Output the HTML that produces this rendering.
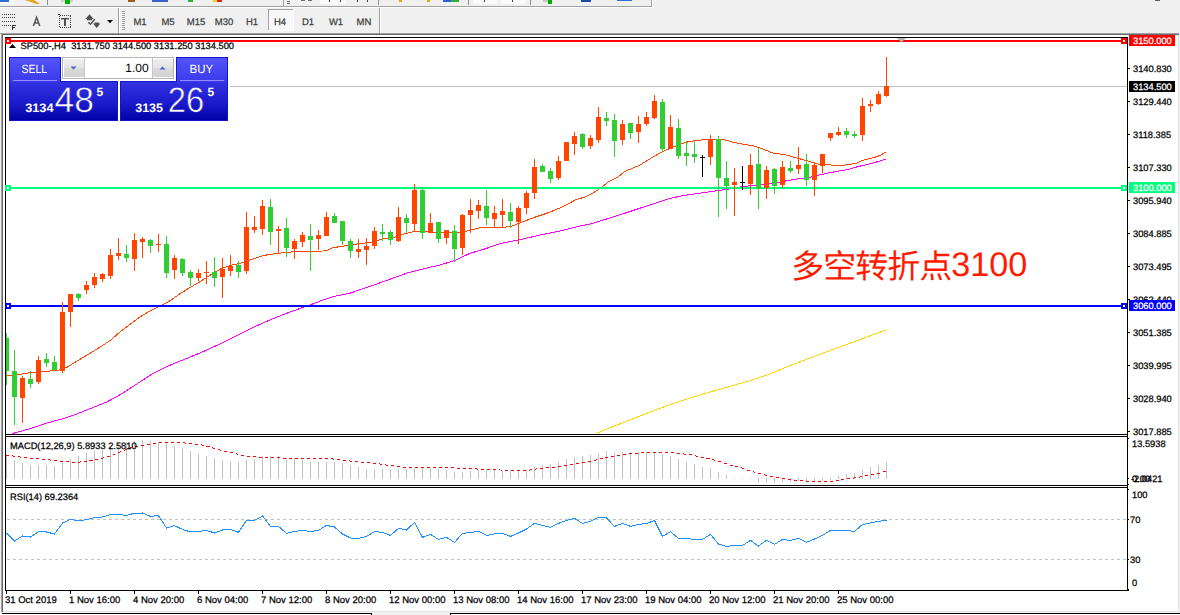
<!DOCTYPE html>
<html><head><meta charset="utf-8"><title>SP500-,H4</title>
<style>
html,body{margin:0;padding:0;background:#f0f0f0;}
body{width:1180px;height:615px;overflow:hidden;font-family:"Liberation Sans",sans-serif;}
svg{display:block;font-family:"Liberation Sans",sans-serif;}
</style></head><body>
<svg width="1180" height="615" viewBox="0 0 1180 615" shape-rendering="crispEdges" text-rendering="geometricPrecision">
<rect x="0" y="0" width="1180" height="615" fill="#f0f0f0"/>
<g id="tb1">
<rect x="0" y="6" width="652" height="1" fill="#a0a0a0"/>
<rect x="0" y="7" width="652" height="1" fill="#ffffff"/>
<rect x="651" y="0" width="1" height="7" fill="#a0a0a0"/>
<rect x="652" y="0" width="1" height="8" fill="#ffffff"/>
<rect x="0" y="0" width="14" height="4" fill="#fafafa"/>
<rect x="0" y="0" width="9" height="2" fill="#2f6fd0"/>
<path d="M25 0 L34 0 L40 4 L36.5 4 Z" fill="#e0a818" shape-rendering="auto"/>
<rect x="47" y="0" width="1" height="5" fill="#8c8c8c"/>
<rect x="61" y="0" width="12" height="2" fill="#d0d0d0"/>
<rect x="65" y="0" width="5" height="4" fill="#00b000"/>
<rect x="128" y="0" width="7" height="2" fill="#a0601c"/>
<rect x="152" y="0" width="16" height="2" fill="#3c64c8"/>
<rect x="184" y="0" width="4" height="2" fill="#e8f0f8"/>
<rect x="188" y="0" width="5" height="2" fill="#30b030"/>
<rect x="213" y="0" width="4" height="2" fill="#f0d020"/>
<rect x="217" y="0" width="5" height="2" fill="#e02010"/>
<rect x="283" y="0" width="1" height="6" fill="#a0a0a0"/>
<rect x="287" y="1" width="3" height="1" fill="#707070"/>
<rect x="287" y="3" width="3" height="1" fill="#707070"/>
<rect x="301" y="0" width="4" height="1" fill="#707070"/>
<rect x="308" y="0" width="4" height="1" fill="#707070"/>
<rect x="320" y="0" width="26" height="4" fill="#fafafa"/>
<rect x="329" y="0" width="1" height="2" fill="#404040"/>
<rect x="340" y="0" width="1" height="2" fill="#404040"/>
<rect x="357" y="0" width="1" height="2" fill="#404040"/>
<rect x="367" y="0" width="1" height="2" fill="#404040"/>
<rect x="378" y="0" width="1" height="5" fill="#8c8c8c"/>
<rect x="399" y="0" width="3" height="2" fill="#e0b000"/>
<rect x="427" y="0" width="3" height="2" fill="#e0b000"/>
<rect x="443" y="0" width="8" height="2" fill="#3060e0"/>
<rect x="451" y="0" width="8" height="2" fill="#30b030"/>
<rect x="468" y="0" width="1" height="5" fill="#8c8c8c"/>
<rect x="473" y="0" width="24" height="4" fill="#fafafa"/>
<rect x="501" y="0" width="25" height="4" fill="#fafafa"/>
<rect x="484" y="0" width="1" height="2" fill="#404040"/>
<rect x="512" y="0" width="1" height="2" fill="#404040"/>
<rect x="530" y="0" width="1" height="5" fill="#8c8c8c"/>
<rect x="543" y="0" width="5" height="2" fill="#c8c8c8"/>
<rect x="548" y="0" width="4" height="4" fill="#00b000"/>
<rect x="581" y="0" width="10" height="2" fill="#1c48a8"/>
<rect x="617" y="0" width="15" height="1" fill="#3070d0"/>
<rect x="1155" y="0" width="5" height="1" fill="#606060"/>
</g>
<g id="tb2">
<rect x="2" y="14" width="1" height="1" fill="#404040"/>
<rect x="4" y="14" width="1" height="1" fill="#404040"/>
<rect x="6" y="14" width="1" height="1" fill="#404040"/>
<rect x="8" y="14" width="1" height="1" fill="#404040"/>
<rect x="10" y="14" width="1" height="1" fill="#404040"/>
<rect x="12" y="14" width="1" height="1" fill="#404040"/>
<rect x="14" y="14" width="1" height="1" fill="#404040"/>
<rect x="2" y="17" width="1" height="1" fill="#404040"/>
<rect x="4" y="17" width="1" height="1" fill="#404040"/>
<rect x="6" y="17" width="1" height="1" fill="#404040"/>
<rect x="8" y="17" width="1" height="1" fill="#404040"/>
<rect x="10" y="17" width="1" height="1" fill="#404040"/>
<rect x="12" y="17" width="1" height="1" fill="#404040"/>
<rect x="14" y="17" width="1" height="1" fill="#404040"/>
<rect x="2" y="21" width="1" height="1" fill="#404040"/>
<rect x="4" y="21" width="1" height="1" fill="#404040"/>
<rect x="6" y="21" width="1" height="1" fill="#404040"/>
<rect x="8" y="21" width="1" height="1" fill="#404040"/>
<rect x="10" y="21" width="1" height="1" fill="#404040"/>
<rect x="12" y="21" width="1" height="1" fill="#404040"/>
<rect x="14" y="21" width="1" height="1" fill="#404040"/>
<rect x="2" y="25" width="1" height="1" fill="#404040"/>
<rect x="4" y="25" width="1" height="1" fill="#404040"/>
<rect x="6" y="25" width="1" height="1" fill="#404040"/>
<rect x="8" y="25" width="1" height="1" fill="#404040"/>
<rect x="10" y="25" width="1" height="1" fill="#404040"/>
<path d="M12 25h4v1h-3v1h2v1h-2v2h-1z" fill="#303030"/>
<path d="M33.4 26 L36.6 17.4 L39.8 26 M34.6 23.1 L38.6 23.1" fill="none" stroke="#555" stroke-width="1.5" stroke-linejoin="miter" shape-rendering="geometricPrecision"/>
<rect x="60" y="15" width="1" height="1" fill="#404040"/>
<rect x="60" y="27" width="1" height="1" fill="#404040"/>
<rect x="62" y="15" width="1" height="1" fill="#404040"/>
<rect x="62" y="27" width="1" height="1" fill="#404040"/>
<rect x="64" y="15" width="1" height="1" fill="#404040"/>
<rect x="64" y="27" width="1" height="1" fill="#404040"/>
<rect x="66" y="15" width="1" height="1" fill="#404040"/>
<rect x="66" y="27" width="1" height="1" fill="#404040"/>
<rect x="68" y="15" width="1" height="1" fill="#404040"/>
<rect x="68" y="27" width="1" height="1" fill="#404040"/>
<rect x="70" y="15" width="1" height="1" fill="#404040"/>
<rect x="70" y="27" width="1" height="1" fill="#404040"/>
<rect x="59" y="16" width="1" height="1" fill="#404040"/>
<rect x="70" y="16" width="1" height="1" fill="#404040"/>
<rect x="59" y="18" width="1" height="1" fill="#404040"/>
<rect x="70" y="18" width="1" height="1" fill="#404040"/>
<rect x="59" y="20" width="1" height="1" fill="#404040"/>
<rect x="70" y="20" width="1" height="1" fill="#404040"/>
<rect x="59" y="22" width="1" height="1" fill="#404040"/>
<rect x="70" y="22" width="1" height="1" fill="#404040"/>
<rect x="59" y="24" width="1" height="1" fill="#404040"/>
<rect x="70" y="24" width="1" height="1" fill="#404040"/>
<rect x="59" y="26" width="1" height="1" fill="#404040"/>
<rect x="70" y="26" width="1" height="1" fill="#404040"/>
<rect x="58" y="14" width="2" height="1" fill="#404040"/>
<rect x="61" y="18" width="8" height="1" fill="#505050"/>
<rect x="61" y="19" width="8" height="1" fill="#b0b0b0"/>
<rect x="64" y="18" width="2" height="8" fill="#505050"/>
<path d="M89.5 14.3 L93.6 19 L92 19 L92 20.2 L87 20.2 L87 19 L85.4 19 Z M93 23.6 L94.6 23.6 L94.6 22.6 L98.8 22.6 L98.8 23.6 L100.4 23.6 L96.7 28 Z" fill="#505050" shape-rendering="auto"/>
<path d="M88.3 22.2 L90.4 24.3 L94.8 19.2" fill="none" stroke="#505050" stroke-width="1.4" shape-rendering="auto"/>
<path d="M107 20 L113 20 L110 23.2 Z" fill="#000" shape-rendering="auto"/>
<rect x="118" y="8" width="1" height="25" fill="#a0a0a0"/>
<rect x="119" y="8" width="1" height="25" fill="#ffffff"/>
<rect x="122" y="11" width="3" height="1" fill="#a0a0a0"/>
<rect x="122" y="13" width="3" height="1" fill="#a0a0a0"/>
<rect x="122" y="15" width="3" height="1" fill="#a0a0a0"/>
<rect x="122" y="17" width="3" height="1" fill="#a0a0a0"/>
<rect x="122" y="19" width="3" height="1" fill="#a0a0a0"/>
<rect x="122" y="21" width="3" height="1" fill="#a0a0a0"/>
<rect x="122" y="23" width="3" height="1" fill="#a0a0a0"/>
<rect x="122" y="25" width="3" height="1" fill="#a0a0a0"/>
<rect x="122" y="27" width="3" height="1" fill="#a0a0a0"/>
<rect x="122" y="29" width="3" height="1" fill="#a0a0a0"/>
<rect x="268" y="9" width="26" height="22" fill="#f8f8f8"/>
<rect x="268" y="9" width="26" height="1" fill="#a0a0a0"/>
<rect x="268" y="9" width="1" height="22" fill="#a0a0a0"/>
<rect x="268" y="30" width="26" height="1" fill="#ffffff"/>
<rect x="293" y="9" width="1" height="22" fill="#ffffff"/>
<text x="140" y="25" font-size="9.5" fill="#404040" text-anchor="middle" stroke="#404040" stroke-width="0.25">M1</text>
<text x="168" y="25" font-size="9.5" fill="#404040" text-anchor="middle" stroke="#404040" stroke-width="0.25">M5</text>
<text x="196" y="25" font-size="9.5" fill="#404040" text-anchor="middle" stroke="#404040" stroke-width="0.25">M15</text>
<text x="224" y="25" font-size="9.5" fill="#404040" text-anchor="middle" stroke="#404040" stroke-width="0.25">M30</text>
<text x="252" y="25" font-size="9.5" fill="#404040" text-anchor="middle" stroke="#404040" stroke-width="0.25">H1</text>
<text x="280" y="25" font-size="9.5" fill="#404040" text-anchor="middle" stroke="#404040" stroke-width="0.25">H4</text>
<text x="308" y="25" font-size="9.5" fill="#404040" text-anchor="middle" stroke="#404040" stroke-width="0.25">D1</text>
<text x="336" y="25" font-size="9.5" fill="#404040" text-anchor="middle" stroke="#404040" stroke-width="0.25">W1</text>
<text x="364" y="25" font-size="9.5" fill="#404040" text-anchor="middle" stroke="#404040" stroke-width="0.25">MN</text>
<rect x="379" y="8" width="1" height="25" fill="#a0a0a0"/>
<rect x="380" y="8" width="1" height="25" fill="#ffffff"/>
</g>
<rect x="0" y="33" width="1179" height="1" fill="#a0a0a0"/>
<rect x="1" y="34" width="1178" height="1" fill="#696969"/>
<rect x="1" y="33" width="1" height="579" fill="#a0a0a0"/>
<rect x="2" y="34" width="1" height="578" fill="#696969"/>
<rect x="3" y="35" width="1175" height="576" fill="#ffffff"/>
<rect x="1178" y="35" width="1" height="577" fill="#e3e3e3"/>
<rect x="3" y="611" width="1176" height="1" fill="#e3e3e3"/>
<rect x="2" y="613" width="370" height="1" fill="#000"/>
<rect x="450" y="613" width="730" height="1" fill="#000"/>
<rect x="371" y="613" width="1" height="2" fill="#000"/>
<rect x="450" y="613" width="1" height="2" fill="#000"/>
<rect x="0" y="614" width="371" height="1" fill="#ffffff"/>
<rect x="451" y="614" width="729" height="1" fill="#ffffff"/>
<rect x="5" y="37" width="1123" height="1" fill="#000"/>
<rect x="5" y="37" width="1" height="554" fill="#000"/>
<rect x="1127" y="37" width="1" height="554" fill="#000"/>
<rect x="5" y="434" width="1123" height="1" fill="#000"/>
<rect x="5" y="436" width="1123" height="1" fill="#000"/>
<rect x="5" y="485" width="1123" height="1" fill="#000"/>
<rect x="5" y="487" width="1123" height="1" fill="#000"/>
<rect x="5" y="590" width="1124" height="1" fill="#000"/>
<rect x="6" y="435" width="1121" height="1" fill="#fff"/>
<rect x="6" y="486" width="1121" height="1" fill="#fff"/>
<rect x="230" y="86" width="897" height="1" fill="#c0c0c0"/>
<g id="series">
<polyline points="596.0,433.6 610.0,427.6 630.0,420.0 650.0,412.0 670.0,404.6 690.0,398.0 710.0,392.0 730.0,386.4 750.0,380.6 770.0,374.0 790.0,365.6 810.0,358.0 826.0,352.0 886.0,330.0" fill="none" stroke="#ffd700" stroke-width="1"/>
<polyline points="12.5,433.8 13.8,433.2 30.6,428.6 45.8,423.3 61.1,419.2 76.4,414.1 91.7,408.0 107.0,401.9 122.2,393.5 137.5,383.5 152.8,373.6 168.1,366.0 180.0,361.1 200.0,353.0 220.0,344.0 241.1,333.5 255.6,326.3 269.3,320.2 284.6,314.1 299.9,308.5 312.1,304.2 322.8,300.0 335.0,296.2 350.0,293.2 378.2,283.5 393.5,277.9 408.8,272.5 424.0,268.7 439.3,265.2 454.6,260.6 469.9,253.4 485.2,248.8 500.5,243.5 520.0,239.7 540.0,235.0 560.0,231.0 580.0,226.0 592.5,223.5 607.8,218.6 624.6,213.3 639.9,208.2 655.2,203.3 670.5,198.3 681.1,196.0 690.0,194.5 698.7,193.3 717.4,190.7 730.5,188.8 743.6,186.4 754.8,185.4 773.5,183.2 792.1,179.8 810.8,177.0 829.5,172.7 848.2,169.5 857.6,166.7 866.9,164.5 876.3,162.1 885.6,159.3" fill="none" stroke="#ff00ff" stroke-width="1"/>
<polyline points="6.0,375.6 20.0,374.4 30.6,372.5 45.8,371.3 56.5,370.6 62.7,369.0 67.2,367.2 76.4,361.4 85.6,356.0 94.7,350.4 103.9,344.6 110.8,340.0 120.0,332.0 140.0,317.0 148.0,312.0 160.0,306.0 170.0,300.8 179.2,294.2 188.3,288.6 200.6,281.3 209.7,275.5 220.4,269.0 231.1,265.2 241.8,262.9 252.5,259.1 264.7,255.3 277.0,253.4 292.2,251.9 307.5,251.2 322.8,251.0 327.4,250.4 332.0,247.9 341.2,246.4 355.3,244.2 370.6,242.3 379.7,239.7 385.8,238.4 393.5,237.7 401.1,234.8 408.8,232.8 414.9,231.3 425.6,231.6 431.7,232.3 447.0,232.3 459.2,232.3 466.8,231.0 472.9,229.4 482.1,227.4 492.8,227.1 505.0,227.1 512.7,225.9 519.9,222.9 532.9,217.9 548.2,212.8 563.5,206.4 575.7,199.8 586.4,196.5 595.6,191.4 601.7,187.3 609.3,181.2 617.0,177.7 624.6,171.6 639.9,165.1 652.1,157.5 662.8,151.4 672.0,147.6 681.1,143.8 689.3,141.5 698.7,140.2 709.9,139.3 723.0,139.3 732.3,142.1 743.6,144.3 754.8,146.2 764.1,149.5 773.5,153.3 784.7,154.6 795.9,157.8 807.1,160.7 816.4,163.9 829.5,164.9 838.9,165.8 848.2,164.5 855.7,163.4 863.2,160.2 874.4,157.4 880.0,155.5 885.6,152.1" fill="none" stroke="#ff4500" stroke-width="1"/>
</g>
<rect x="6" y="40" width="1121" height="2" fill="#ff0000"/>
<rect x="6" y="187" width="1121" height="2" fill="#00ff7f"/>
<rect x="6" y="305" width="1121" height="2" fill="#0000ff"/>
<g id="candles">
<rect x="6" y="333" width="1" height="52" fill="#32cd32"/>
<rect x="6" y="338" width="3" height="33" fill="#32cd32"/>
<rect x="14" y="350" width="1" height="75" fill="#32cd32"/>
<rect x="12" y="371" width="5" height="26" fill="#32cd32"/>
<rect x="22" y="376" width="1" height="47" fill="#ff4500"/>
<rect x="20" y="378" width="5" height="20" fill="#ff4500"/>
<rect x="30" y="371" width="1" height="17" fill="#32cd32"/>
<rect x="28" y="379" width="5" height="5" fill="#32cd32"/>
<rect x="38" y="356" width="1" height="28" fill="#ff4500"/>
<rect x="36" y="360" width="5" height="22" fill="#ff4500"/>
<rect x="46" y="353" width="1" height="14" fill="#32cd32"/>
<rect x="44" y="359" width="5" height="4" fill="#32cd32"/>
<rect x="54" y="356" width="1" height="15" fill="#32cd32"/>
<rect x="52" y="362" width="5" height="8" fill="#32cd32"/>
<rect x="62" y="302" width="1" height="71" fill="#ff4500"/>
<rect x="60" y="312" width="5" height="59" fill="#ff4500"/>
<rect x="70" y="294" width="1" height="33" fill="#ff4500"/>
<rect x="68" y="294" width="5" height="18" fill="#ff4500"/>
<rect x="78" y="293" width="1" height="8" fill="#32cd32"/>
<rect x="76" y="294" width="5" height="4" fill="#32cd32"/>
<rect x="86" y="281" width="1" height="13" fill="#ff4500"/>
<rect x="84" y="285" width="5" height="5" fill="#ff4500"/>
<rect x="94" y="273" width="1" height="15" fill="#ff4500"/>
<rect x="92" y="277" width="5" height="8" fill="#ff4500"/>
<rect x="102" y="273" width="1" height="9" fill="#ff4500"/>
<rect x="100" y="274" width="5" height="5" fill="#ff4500"/>
<rect x="110" y="249" width="1" height="30" fill="#ff4500"/>
<rect x="108" y="255" width="5" height="21" fill="#ff4500"/>
<rect x="118" y="238" width="1" height="22" fill="#ff4500"/>
<rect x="116" y="253" width="5" height="3" fill="#ff4500"/>
<rect x="126" y="245" width="1" height="17" fill="#32cd32"/>
<rect x="124" y="254" width="5" height="4" fill="#32cd32"/>
<rect x="134" y="233" width="1" height="38" fill="#ff4500"/>
<rect x="132" y="240" width="5" height="19" fill="#ff4500"/>
<rect x="142" y="237" width="1" height="21" fill="#ff4500"/>
<rect x="140" y="239" width="5" height="3" fill="#ff4500"/>
<rect x="150" y="239" width="1" height="14" fill="#32cd32"/>
<rect x="148" y="240" width="5" height="6" fill="#32cd32"/>
<rect x="158" y="234" width="1" height="18" fill="#ff4500"/>
<rect x="156" y="244" width="5" height="1" fill="#ff4500"/>
<rect x="166" y="236" width="1" height="42" fill="#32cd32"/>
<rect x="164" y="244" width="5" height="29" fill="#32cd32"/>
<rect x="174" y="255" width="1" height="24" fill="#ff4500"/>
<rect x="172" y="258" width="5" height="12" fill="#ff4500"/>
<rect x="182" y="258" width="1" height="18" fill="#32cd32"/>
<rect x="180" y="259" width="5" height="14" fill="#32cd32"/>
<rect x="190" y="270" width="1" height="16" fill="#32cd32"/>
<rect x="188" y="272" width="5" height="6" fill="#32cd32"/>
<rect x="198" y="269" width="1" height="12" fill="#ff4500"/>
<rect x="196" y="273" width="5" height="5" fill="#ff4500"/>
<rect x="206" y="261" width="1" height="23" fill="#ff4500"/>
<rect x="204" y="272" width="5" height="1" fill="#ff4500"/>
<rect x="214" y="257" width="1" height="30" fill="#32cd32"/>
<rect x="212" y="272" width="5" height="6" fill="#32cd32"/>
<rect x="222" y="258" width="1" height="40" fill="#ff4500"/>
<rect x="220" y="269" width="5" height="8" fill="#ff4500"/>
<rect x="230" y="255" width="1" height="21" fill="#ff4500"/>
<rect x="228" y="266" width="5" height="5" fill="#ff4500"/>
<rect x="238" y="261" width="1" height="17" fill="#32cd32"/>
<rect x="236" y="265" width="5" height="7" fill="#32cd32"/>
<rect x="246" y="212" width="1" height="62" fill="#ff4500"/>
<rect x="244" y="227" width="5" height="44" fill="#ff4500"/>
<rect x="254" y="216" width="1" height="17" fill="#ff4500"/>
<rect x="252" y="227" width="5" height="3" fill="#ff4500"/>
<rect x="262" y="200" width="1" height="35" fill="#ff4500"/>
<rect x="260" y="206" width="5" height="23" fill="#ff4500"/>
<rect x="270" y="199" width="1" height="46" fill="#32cd32"/>
<rect x="268" y="207" width="5" height="25" fill="#32cd32"/>
<rect x="278" y="226" width="1" height="27" fill="#ff4500"/>
<rect x="276" y="229" width="5" height="2" fill="#ff4500"/>
<rect x="286" y="218" width="1" height="39" fill="#32cd32"/>
<rect x="284" y="228" width="5" height="20" fill="#32cd32"/>
<rect x="294" y="239" width="1" height="20" fill="#ff4500"/>
<rect x="292" y="241" width="5" height="8" fill="#ff4500"/>
<rect x="302" y="232" width="1" height="15" fill="#ff4500"/>
<rect x="300" y="235" width="5" height="7" fill="#ff4500"/>
<rect x="310" y="224" width="1" height="47" fill="#32cd32"/>
<rect x="308" y="236" width="5" height="4" fill="#32cd32"/>
<rect x="318" y="230" width="1" height="20" fill="#ff4500"/>
<rect x="316" y="235" width="5" height="4" fill="#ff4500"/>
<rect x="326" y="212" width="1" height="24" fill="#ff4500"/>
<rect x="324" y="217" width="5" height="19" fill="#ff4500"/>
<rect x="334" y="213" width="1" height="10" fill="#32cd32"/>
<rect x="332" y="216" width="5" height="7" fill="#32cd32"/>
<rect x="342" y="221" width="1" height="24" fill="#32cd32"/>
<rect x="340" y="221" width="5" height="20" fill="#32cd32"/>
<rect x="350" y="239" width="1" height="19" fill="#32cd32"/>
<rect x="348" y="241" width="5" height="10" fill="#32cd32"/>
<rect x="358" y="239" width="1" height="19" fill="#ff4500"/>
<rect x="356" y="249" width="5" height="3" fill="#ff4500"/>
<rect x="366" y="238" width="1" height="27" fill="#ff4500"/>
<rect x="364" y="246" width="5" height="4" fill="#ff4500"/>
<rect x="374" y="227" width="1" height="22" fill="#ff4500"/>
<rect x="372" y="231" width="5" height="15" fill="#ff4500"/>
<rect x="382" y="224" width="1" height="17" fill="#32cd32"/>
<rect x="380" y="232" width="5" height="2" fill="#32cd32"/>
<rect x="390" y="230" width="1" height="15" fill="#32cd32"/>
<rect x="388" y="232" width="5" height="8" fill="#32cd32"/>
<rect x="398" y="207" width="1" height="35" fill="#ff4500"/>
<rect x="396" y="217" width="5" height="24" fill="#ff4500"/>
<rect x="406" y="214" width="1" height="19" fill="#32cd32"/>
<rect x="404" y="218" width="5" height="5" fill="#32cd32"/>
<rect x="414" y="184" width="1" height="47" fill="#ff4500"/>
<rect x="412" y="190" width="5" height="34" fill="#ff4500"/>
<rect x="422" y="187" width="1" height="52" fill="#32cd32"/>
<rect x="420" y="190" width="5" height="43" fill="#32cd32"/>
<rect x="430" y="213" width="1" height="20" fill="#ff4500"/>
<rect x="428" y="223" width="5" height="10" fill="#ff4500"/>
<rect x="438" y="222" width="1" height="21" fill="#32cd32"/>
<rect x="436" y="222" width="5" height="17" fill="#32cd32"/>
<rect x="446" y="230" width="1" height="14" fill="#ff4500"/>
<rect x="444" y="230" width="5" height="8" fill="#ff4500"/>
<rect x="454" y="225" width="1" height="37" fill="#32cd32"/>
<rect x="452" y="231" width="5" height="18" fill="#32cd32"/>
<rect x="462" y="214" width="1" height="41" fill="#ff4500"/>
<rect x="460" y="215" width="5" height="33" fill="#ff4500"/>
<rect x="470" y="199" width="1" height="34" fill="#ff4500"/>
<rect x="468" y="210" width="5" height="5" fill="#ff4500"/>
<rect x="478" y="200" width="1" height="19" fill="#ff4500"/>
<rect x="476" y="205" width="5" height="6" fill="#ff4500"/>
<rect x="486" y="190" width="1" height="35" fill="#32cd32"/>
<rect x="484" y="206" width="5" height="12" fill="#32cd32"/>
<rect x="494" y="206" width="1" height="22" fill="#ff4500"/>
<rect x="492" y="213" width="5" height="6" fill="#ff4500"/>
<rect x="502" y="199" width="1" height="29" fill="#ff4500"/>
<rect x="500" y="211" width="5" height="4" fill="#ff4500"/>
<rect x="510" y="203" width="1" height="25" fill="#32cd32"/>
<rect x="508" y="212" width="5" height="9" fill="#32cd32"/>
<rect x="518" y="206" width="1" height="38" fill="#ff4500"/>
<rect x="516" y="208" width="5" height="14" fill="#ff4500"/>
<rect x="526" y="191" width="1" height="23" fill="#ff4500"/>
<rect x="524" y="193" width="5" height="15" fill="#ff4500"/>
<rect x="534" y="159" width="1" height="40" fill="#ff4500"/>
<rect x="532" y="167" width="5" height="26" fill="#ff4500"/>
<rect x="542" y="164" width="1" height="8" fill="#32cd32"/>
<rect x="540" y="166" width="5" height="6" fill="#32cd32"/>
<rect x="550" y="168" width="1" height="15" fill="#32cd32"/>
<rect x="548" y="171" width="5" height="8" fill="#32cd32"/>
<rect x="558" y="156" width="1" height="24" fill="#ff4500"/>
<rect x="556" y="161" width="5" height="17" fill="#ff4500"/>
<rect x="566" y="142" width="1" height="19" fill="#ff4500"/>
<rect x="564" y="142" width="5" height="19" fill="#ff4500"/>
<rect x="574" y="132" width="1" height="23" fill="#ff4500"/>
<rect x="572" y="136" width="5" height="8" fill="#ff4500"/>
<rect x="582" y="133" width="1" height="16" fill="#32cd32"/>
<rect x="580" y="134" width="5" height="13" fill="#32cd32"/>
<rect x="590" y="135" width="1" height="14" fill="#ff4500"/>
<rect x="588" y="138" width="5" height="8" fill="#ff4500"/>
<rect x="598" y="107" width="1" height="36" fill="#ff4500"/>
<rect x="596" y="117" width="5" height="23" fill="#ff4500"/>
<rect x="606" y="112" width="1" height="14" fill="#32cd32"/>
<rect x="604" y="118" width="5" height="3" fill="#32cd32"/>
<rect x="614" y="114" width="1" height="43" fill="#32cd32"/>
<rect x="612" y="120" width="5" height="21" fill="#32cd32"/>
<rect x="622" y="120" width="1" height="25" fill="#ff4500"/>
<rect x="620" y="124" width="5" height="16" fill="#ff4500"/>
<rect x="630" y="123" width="1" height="16" fill="#32cd32"/>
<rect x="628" y="123" width="5" height="10" fill="#32cd32"/>
<rect x="638" y="116" width="1" height="27" fill="#ff4500"/>
<rect x="636" y="124" width="5" height="8" fill="#ff4500"/>
<rect x="646" y="112" width="1" height="14" fill="#ff4500"/>
<rect x="644" y="117" width="5" height="7" fill="#ff4500"/>
<rect x="654" y="95" width="1" height="24" fill="#ff4500"/>
<rect x="652" y="101" width="5" height="17" fill="#ff4500"/>
<rect x="662" y="99" width="1" height="53" fill="#32cd32"/>
<rect x="660" y="102" width="5" height="47" fill="#32cd32"/>
<rect x="670" y="115" width="1" height="34" fill="#ff4500"/>
<rect x="668" y="127" width="5" height="22" fill="#ff4500"/>
<rect x="678" y="119" width="1" height="40" fill="#32cd32"/>
<rect x="676" y="128" width="5" height="28" fill="#32cd32"/>
<rect x="686" y="141" width="1" height="25" fill="#32cd32"/>
<rect x="684" y="153" width="5" height="3" fill="#32cd32"/>
<rect x="694" y="141" width="1" height="22" fill="#32cd32"/>
<rect x="692" y="154" width="5" height="3" fill="#32cd32"/>
<rect x="702" y="155" width="1" height="22" fill="#000"/>
<rect x="700" y="157" width="5" height="1" fill="#000"/>
<rect x="710" y="135" width="1" height="30" fill="#ff4500"/>
<rect x="708" y="139" width="5" height="18" fill="#ff4500"/>
<rect x="718" y="136" width="1" height="81" fill="#32cd32"/>
<rect x="716" y="139" width="5" height="39" fill="#32cd32"/>
<rect x="726" y="161" width="1" height="48" fill="#32cd32"/>
<rect x="724" y="178" width="5" height="8" fill="#32cd32"/>
<rect x="734" y="168" width="1" height="48" fill="#ff4500"/>
<rect x="732" y="182" width="5" height="3" fill="#ff4500"/>
<rect x="742" y="166" width="1" height="24" fill="#000"/>
<rect x="740" y="182" width="5" height="1" fill="#000"/>
<rect x="750" y="154" width="1" height="41" fill="#ff4500"/>
<rect x="748" y="165" width="5" height="19" fill="#ff4500"/>
<rect x="758" y="148" width="1" height="61" fill="#32cd32"/>
<rect x="756" y="164" width="5" height="25" fill="#32cd32"/>
<rect x="766" y="166" width="1" height="33" fill="#ff4500"/>
<rect x="764" y="170" width="5" height="18" fill="#ff4500"/>
<rect x="774" y="168" width="1" height="26" fill="#32cd32"/>
<rect x="772" y="169" width="5" height="17" fill="#32cd32"/>
<rect x="782" y="161" width="1" height="27" fill="#ff4500"/>
<rect x="780" y="167" width="5" height="18" fill="#ff4500"/>
<rect x="790" y="161" width="1" height="12" fill="#32cd32"/>
<rect x="788" y="168" width="5" height="3" fill="#32cd32"/>
<rect x="798" y="147" width="1" height="27" fill="#ff4500"/>
<rect x="796" y="165" width="5" height="4" fill="#ff4500"/>
<rect x="806" y="154" width="1" height="32" fill="#32cd32"/>
<rect x="804" y="164" width="5" height="16" fill="#32cd32"/>
<rect x="814" y="162" width="1" height="34" fill="#ff4500"/>
<rect x="812" y="165" width="5" height="15" fill="#ff4500"/>
<rect x="822" y="154" width="1" height="19" fill="#ff4500"/>
<rect x="820" y="154" width="5" height="12" fill="#ff4500"/>
<rect x="830" y="133" width="1" height="8" fill="#ff4500"/>
<rect x="828" y="133" width="5" height="5" fill="#ff4500"/>
<rect x="838" y="127" width="1" height="9" fill="#ff4500"/>
<rect x="836" y="132" width="5" height="3" fill="#ff4500"/>
<rect x="846" y="128" width="1" height="10" fill="#32cd32"/>
<rect x="844" y="131" width="5" height="4" fill="#32cd32"/>
<rect x="854" y="131" width="1" height="7" fill="#32cd32"/>
<rect x="852" y="134" width="5" height="2" fill="#32cd32"/>
<rect x="862" y="98" width="1" height="43" fill="#ff4500"/>
<rect x="860" y="106" width="5" height="29" fill="#ff4500"/>
<rect x="870" y="100" width="1" height="12" fill="#ff4500"/>
<rect x="868" y="104" width="5" height="2" fill="#ff4500"/>
<rect x="878" y="91" width="1" height="14" fill="#ff4500"/>
<rect x="876" y="94" width="5" height="10" fill="#ff4500"/>
<rect x="886" y="57" width="1" height="40" fill="#ff4500"/>
<rect x="884" y="86" width="5" height="10" fill="#ff4500"/>
</g>
<rect x="5" y="38" width="6" height="6" fill="#ff0000"/>
<rect x="7" y="40" width="2" height="2" fill="#fff"/>
<rect x="1121" y="38" width="6" height="6" fill="#ff0000"/>
<rect x="1123" y="40" width="2" height="2" fill="#fff"/>
<rect x="5" y="185" width="6" height="6" fill="#00ff7f"/>
<rect x="7" y="187" width="2" height="2" fill="#fff"/>
<rect x="1121" y="185" width="6" height="6" fill="#00ff7f"/>
<rect x="1123" y="187" width="2" height="2" fill="#fff"/>
<rect x="5" y="303" width="6" height="6" fill="#0000ff"/>
<rect x="7" y="305" width="2" height="2" fill="#fff"/>
<rect x="1121" y="303" width="6" height="6" fill="#0000ff"/>
<rect x="1123" y="305" width="2" height="2" fill="#fff"/>
<path d="M897 38 L906 38 L901.5 42.5 Z" fill="#b0b0b0" shape-rendering="auto"/>
<g id="macd">
<rect x="6" y="455" width="1" height="24" fill="#c0c0c0"/>
<rect x="14" y="460" width="1" height="19" fill="#c0c0c0"/>
<rect x="22" y="463" width="1" height="16" fill="#c0c0c0"/>
<rect x="30" y="465" width="1" height="14" fill="#c0c0c0"/>
<rect x="38" y="465" width="1" height="14" fill="#c0c0c0"/>
<rect x="46" y="465" width="1" height="14" fill="#c0c0c0"/>
<rect x="54" y="466" width="1" height="13" fill="#c0c0c0"/>
<rect x="62" y="463" width="1" height="16" fill="#c0c0c0"/>
<rect x="70" y="459" width="1" height="20" fill="#c0c0c0"/>
<rect x="78" y="456" width="1" height="23" fill="#c0c0c0"/>
<rect x="86" y="453" width="1" height="26" fill="#c0c0c0"/>
<rect x="94" y="451" width="1" height="28" fill="#c0c0c0"/>
<rect x="102" y="450" width="1" height="29" fill="#c0c0c0"/>
<rect x="110" y="447" width="1" height="32" fill="#c0c0c0"/>
<rect x="118" y="444" width="1" height="35" fill="#c0c0c0"/>
<rect x="126" y="442" width="1" height="37" fill="#c0c0c0"/>
<rect x="134" y="441" width="1" height="38" fill="#c0c0c0"/>
<rect x="142" y="440" width="1" height="39" fill="#c0c0c0"/>
<rect x="150" y="441" width="1" height="38" fill="#c0c0c0"/>
<rect x="158" y="442" width="1" height="37" fill="#c0c0c0"/>
<rect x="166" y="443" width="1" height="36" fill="#c0c0c0"/>
<rect x="174" y="446" width="1" height="33" fill="#c0c0c0"/>
<rect x="182" y="448" width="1" height="31" fill="#c0c0c0"/>
<rect x="190" y="451" width="1" height="28" fill="#c0c0c0"/>
<rect x="198" y="454" width="1" height="25" fill="#c0c0c0"/>
<rect x="206" y="456" width="1" height="23" fill="#c0c0c0"/>
<rect x="214" y="458" width="1" height="21" fill="#c0c0c0"/>
<rect x="222" y="460" width="1" height="19" fill="#c0c0c0"/>
<rect x="230" y="461" width="1" height="18" fill="#c0c0c0"/>
<rect x="238" y="462" width="1" height="17" fill="#c0c0c0"/>
<rect x="246" y="460" width="1" height="19" fill="#c0c0c0"/>
<rect x="254" y="459" width="1" height="20" fill="#c0c0c0"/>
<rect x="262" y="456" width="1" height="23" fill="#c0c0c0"/>
<rect x="270" y="456" width="1" height="23" fill="#c0c0c0"/>
<rect x="278" y="456" width="1" height="23" fill="#c0c0c0"/>
<rect x="286" y="458" width="1" height="21" fill="#c0c0c0"/>
<rect x="294" y="458" width="1" height="21" fill="#c0c0c0"/>
<rect x="302" y="460" width="1" height="19" fill="#c0c0c0"/>
<rect x="310" y="462" width="1" height="17" fill="#c0c0c0"/>
<rect x="318" y="462" width="1" height="17" fill="#c0c0c0"/>
<rect x="326" y="462" width="1" height="17" fill="#c0c0c0"/>
<rect x="334" y="462" width="1" height="17" fill="#c0c0c0"/>
<rect x="342" y="463" width="1" height="16" fill="#c0c0c0"/>
<rect x="350" y="465" width="1" height="14" fill="#c0c0c0"/>
<rect x="358" y="467" width="1" height="12" fill="#c0c0c0"/>
<rect x="366" y="469" width="1" height="10" fill="#c0c0c0"/>
<rect x="374" y="469" width="1" height="10" fill="#c0c0c0"/>
<rect x="382" y="469" width="1" height="10" fill="#c0c0c0"/>
<rect x="390" y="470" width="1" height="9" fill="#c0c0c0"/>
<rect x="398" y="469" width="1" height="10" fill="#c0c0c0"/>
<rect x="406" y="469" width="1" height="10" fill="#c0c0c0"/>
<rect x="414" y="468" width="1" height="11" fill="#c0c0c0"/>
<rect x="422" y="468" width="1" height="11" fill="#c0c0c0"/>
<rect x="430" y="468" width="1" height="11" fill="#c0c0c0"/>
<rect x="438" y="469" width="1" height="10" fill="#c0c0c0"/>
<rect x="446" y="470" width="1" height="9" fill="#c0c0c0"/>
<rect x="454" y="472" width="1" height="7" fill="#c0c0c0"/>
<rect x="462" y="472" width="1" height="7" fill="#c0c0c0"/>
<rect x="470" y="471" width="1" height="8" fill="#c0c0c0"/>
<rect x="478" y="470" width="1" height="9" fill="#c0c0c0"/>
<rect x="486" y="470" width="1" height="9" fill="#c0c0c0"/>
<rect x="494" y="470" width="1" height="9" fill="#c0c0c0"/>
<rect x="502" y="471" width="1" height="8" fill="#c0c0c0"/>
<rect x="510" y="471" width="1" height="8" fill="#c0c0c0"/>
<rect x="518" y="471" width="1" height="8" fill="#c0c0c0"/>
<rect x="526" y="470" width="1" height="9" fill="#c0c0c0"/>
<rect x="534" y="467" width="1" height="12" fill="#c0c0c0"/>
<rect x="542" y="465" width="1" height="14" fill="#c0c0c0"/>
<rect x="550" y="464" width="1" height="15" fill="#c0c0c0"/>
<rect x="558" y="462" width="1" height="17" fill="#c0c0c0"/>
<rect x="566" y="459" width="1" height="20" fill="#c0c0c0"/>
<rect x="574" y="457" width="1" height="22" fill="#c0c0c0"/>
<rect x="582" y="456" width="1" height="23" fill="#c0c0c0"/>
<rect x="590" y="455" width="1" height="24" fill="#c0c0c0"/>
<rect x="598" y="453" width="1" height="26" fill="#c0c0c0"/>
<rect x="606" y="451" width="1" height="28" fill="#c0c0c0"/>
<rect x="614" y="452" width="1" height="27" fill="#c0c0c0"/>
<rect x="622" y="452" width="1" height="27" fill="#c0c0c0"/>
<rect x="630" y="452" width="1" height="27" fill="#c0c0c0"/>
<rect x="638" y="452" width="1" height="27" fill="#c0c0c0"/>
<rect x="646" y="452" width="1" height="27" fill="#c0c0c0"/>
<rect x="654" y="452" width="1" height="27" fill="#c0c0c0"/>
<rect x="662" y="454" width="1" height="25" fill="#c0c0c0"/>
<rect x="670" y="456" width="1" height="23" fill="#c0c0c0"/>
<rect x="678" y="459" width="1" height="20" fill="#c0c0c0"/>
<rect x="686" y="462" width="1" height="17" fill="#c0c0c0"/>
<rect x="694" y="464" width="1" height="15" fill="#c0c0c0"/>
<rect x="702" y="467" width="1" height="12" fill="#c0c0c0"/>
<rect x="710" y="468" width="1" height="11" fill="#c0c0c0"/>
<rect x="718" y="472" width="1" height="7" fill="#c0c0c0"/>
<rect x="726" y="475" width="1" height="4" fill="#c0c0c0"/>
<rect x="734" y="478" width="1" height="1" fill="#c0c0c0"/>
<rect x="742" y="478" width="1" height="1" fill="#c0c0c0"/>
<rect x="750" y="478" width="1" height="1" fill="#c0c0c0"/>
<rect x="758" y="478" width="1" height="4" fill="#c0c0c0"/>
<rect x="766" y="478" width="1" height="4" fill="#c0c0c0"/>
<rect x="774" y="478" width="1" height="5" fill="#c0c0c0"/>
<rect x="782" y="478" width="1" height="4" fill="#c0c0c0"/>
<rect x="790" y="478" width="1" height="4" fill="#c0c0c0"/>
<rect x="798" y="478" width="1" height="3" fill="#c0c0c0"/>
<rect x="806" y="478" width="1" height="3" fill="#c0c0c0"/>
<rect x="814" y="478" width="1" height="3" fill="#c0c0c0"/>
<rect x="822" y="478" width="1" height="3" fill="#c0c0c0"/>
<rect x="830" y="478" width="1" height="2" fill="#c0c0c0"/>
<rect x="838" y="476" width="1" height="3" fill="#c0c0c0"/>
<rect x="846" y="474" width="1" height="5" fill="#c0c0c0"/>
<rect x="854" y="473" width="1" height="6" fill="#c0c0c0"/>
<rect x="862" y="470" width="1" height="9" fill="#c0c0c0"/>
<rect x="870" y="467" width="1" height="12" fill="#c0c0c0"/>
<rect x="878" y="465" width="1" height="14" fill="#c0c0c0"/>
<rect x="886" y="462" width="1" height="17" fill="#c0c0c0"/>
<polyline points="6.0,455.0 20.0,457.0 40.0,459.0 60.0,461.0 70.0,462.0 80.0,462.0 90.0,460.6 100.0,459.0 110.0,456.0 120.0,452.0 130.0,448.0 140.0,445.6 150.0,444.0 160.0,442.6 170.0,442.4 180.0,442.4 190.0,443.6 200.0,444.4 210.0,447.0 220.0,450.0 230.0,452.4 236.0,453.6 242.0,455.6 250.0,456.4 260.0,457.4 280.0,458.0 300.0,458.6 330.0,458.6 335.0,459.4 350.0,461.0 360.0,462.0 380.0,464.0 390.0,465.6 404.0,467.2 420.0,467.4 440.0,467.6 472.0,468.4 480.0,469.4 500.0,470.0 520.0,470.4 530.0,470.0 540.0,468.4 550.0,467.4 560.0,466.6 570.0,464.6 580.0,463.0 590.0,461.4 600.0,459.0 610.0,457.0 620.0,455.4 630.0,453.4 640.0,453.0 650.0,452.4 670.0,452.4 680.0,453.6 690.0,454.6 700.0,457.0 710.0,459.0 720.0,461.6 730.0,465.0 740.0,467.4 750.0,471.0 760.0,473.6 770.0,476.4 780.0,478.0 790.0,479.6 800.0,480.6 810.0,481.4 830.0,481.4 840.0,480.0 850.0,478.6 860.0,477.0 870.0,475.0 880.0,473.0 886.0,471.0" fill="none" stroke="#ff0000" stroke-width="1" stroke-dasharray="3 3"/>
</g>
<g id="rsi">
<line x1="7" x2="1126" y1="519.5" y2="519.5" stroke="#c0c0c0" stroke-dasharray="3 3"/>
<line x1="7" x2="1126" y1="559.5" y2="559.5" stroke="#c0c0c0" stroke-dasharray="3 3"/>
<polyline points="6.5,533.0 14.5,541.0 22.5,536.0 30.5,537.0 38.5,531.6 46.5,532.0 54.5,534.0 62.5,523.0 70.5,519.4 78.5,521.0 86.5,519.6 94.5,517.6 102.5,517.0 110.5,514.6 118.5,514.4 126.5,515.4 134.5,513.2 142.5,513.0 150.5,516.4 158.5,515.6 166.5,528.0 174.5,525.6 182.5,529.4 190.5,532.0 198.5,531.4 206.5,530.4 214.5,533.0 222.5,530.0 230.5,529.4 238.5,532.4 246.5,520.4 254.5,520.4 262.5,516.0 270.5,526.4 278.5,526.4 286.5,533.4 294.5,531.4 302.5,530.4 310.5,531.4 318.5,530.4 326.5,525.4 334.5,527.0 342.5,534.0 350.5,538.0 358.5,538.4 366.5,536.4 374.5,531.6 382.5,532.4 390.5,535.4 398.5,528.4 406.5,530.0 414.5,522.4 422.5,537.4 430.5,534.4 438.5,539.4 446.5,537.4 454.5,542.4 462.5,533.4 470.5,532.4 478.5,531.4 486.5,535.4 494.5,534.0 502.5,533.4 510.5,536.4 518.5,533.0 526.5,529.0 534.5,523.4 542.5,525.4 550.5,527.4 558.5,523.4 566.5,520.4 574.5,518.4 582.5,523.4 590.5,521.4 598.5,517.4 606.5,518.0 614.5,526.4 622.5,523.4 630.5,526.4 638.5,524.4 646.5,523.4 654.5,520.6 662.5,536.4 670.5,531.6 678.5,538.4 686.5,538.4 694.5,539.4 702.5,539.4 710.5,534.4 718.5,544.0 726.5,546.4 734.5,545.4 742.5,545.4 750.5,540.4 758.5,546.0 766.5,540.4 774.5,544.4 782.5,539.4 790.5,540.4 798.5,538.4 806.5,542.4 814.5,539.0 822.5,535.4 830.5,530.4 838.5,530.4 846.5,530.4 854.5,531.4 862.5,524.4 870.5,523.0 878.5,521.4 886.5,520.2" fill="none" stroke="#1e90ff" stroke-width="1"/>
</g>
<rect x="1128" y="68" width="2" height="1" fill="#000"/>
<text x="1133" y="72" font-size="9.3" fill="#000" stroke="#000" stroke-width="0.25">3140.830</text>
<rect x="1128" y="101" width="2" height="1" fill="#000"/>
<text x="1133" y="105" font-size="9.3" fill="#000" stroke="#000" stroke-width="0.25">3129.440</text>
<rect x="1128" y="134" width="2" height="1" fill="#000"/>
<text x="1133" y="138" font-size="9.3" fill="#000" stroke="#000" stroke-width="0.25">3118.385</text>
<rect x="1128" y="167" width="2" height="1" fill="#000"/>
<text x="1133" y="171" font-size="9.3" fill="#000" stroke="#000" stroke-width="0.25">3107.330</text>
<rect x="1128" y="200" width="2" height="1" fill="#000"/>
<text x="1133" y="204" font-size="9.3" fill="#000" stroke="#000" stroke-width="0.25">3095.940</text>
<rect x="1128" y="233" width="2" height="1" fill="#000"/>
<text x="1133" y="237" font-size="9.3" fill="#000" stroke="#000" stroke-width="0.25">3084.885</text>
<rect x="1128" y="266" width="2" height="1" fill="#000"/>
<text x="1133" y="270" font-size="9.3" fill="#000" stroke="#000" stroke-width="0.25">3073.495</text>
<rect x="1128" y="299" width="2" height="1" fill="#000"/>
<text x="1133" y="303" font-size="9.3" fill="#000" stroke="#000" stroke-width="0.25">3062.440</text>
<rect x="1128" y="332" width="2" height="1" fill="#000"/>
<text x="1133" y="336" font-size="9.3" fill="#000" stroke="#000" stroke-width="0.25">3051.385</text>
<rect x="1128" y="365" width="2" height="1" fill="#000"/>
<text x="1133" y="369" font-size="9.3" fill="#000" stroke="#000" stroke-width="0.25">3039.995</text>
<rect x="1128" y="398" width="2" height="1" fill="#000"/>
<text x="1133" y="402" font-size="9.3" fill="#000" stroke="#000" stroke-width="0.25">3028.940</text>
<rect x="1128" y="431" width="2" height="1" fill="#000"/>
<text x="1133" y="435" font-size="9.3" fill="#000" stroke="#000" stroke-width="0.25">3017.885</text>
<rect x="1128" y="438" width="1" height="1" fill="#000"/>
<rect x="1128" y="478" width="1" height="1" fill="#000"/>
<rect x="1128" y="484" width="1" height="1" fill="#000"/>
<rect x="1128" y="489" width="1" height="1" fill="#000"/>
<rect x="1128" y="519" width="1" height="1" fill="#000"/>
<rect x="1128" y="559" width="1" height="1" fill="#000"/>
<rect x="1128" y="589" width="1" height="1" fill="#000"/>
<rect x="1129" y="35" width="46" height="11" fill="#ff0000"/>
<text x="1133" y="44" font-size="9.3" fill="#fff" stroke="#fff" stroke-width="0.25">3150.000</text>
<rect x="1129" y="81" width="46" height="11" fill="#000"/>
<text x="1133" y="90" font-size="9.3" fill="#fff" stroke="#fff" stroke-width="0.25">3134.500</text>
<rect x="1129" y="182" width="46" height="11" fill="#00ff7f"/>
<text x="1133" y="191" font-size="9.3" fill="#fff" stroke="#fff" stroke-width="0.25">3100.000</text>
<rect x="1129" y="300" width="46" height="11" fill="#0000ff"/>
<text x="1133" y="309" font-size="9.3" fill="#fff" stroke="#fff" stroke-width="0.25">3060.000</text>
<text x="1132" y="447" font-size="9.3" fill="#000" stroke="#000" stroke-width="0.25">13.5938</text>
<text x="1132" y="482" font-size="9.3" fill="#000" stroke="#000" stroke-width="0.25">0.00</text>
<text x="1131" y="482" font-size="9.3" fill="#000" stroke="#000" stroke-width="0.25">-2.0421</text>
<text x="1132" y="498" font-size="9.3" fill="#000" stroke="#000" stroke-width="0.25">100</text>
<text x="1130" y="523" font-size="9.3" fill="#000" stroke="#000" stroke-width="0.25">70</text>
<text x="1130" y="563" font-size="9.3" fill="#000" stroke="#000" stroke-width="0.25">30</text>
<text x="1132" y="586" font-size="9.3" fill="#000" stroke="#000" stroke-width="0.25">0</text>
<rect x="6" y="591" width="1" height="3" fill="#000"/>
<text x="5" y="603" font-size="9.5" fill="#000" stroke="#000" stroke-width="0.25">31 Oct 2019</text>
<rect x="70" y="591" width="1" height="3" fill="#000"/>
<text x="69" y="603" font-size="9.5" fill="#000" stroke="#000" stroke-width="0.25">1 Nov 16:00</text>
<rect x="134" y="591" width="1" height="3" fill="#000"/>
<text x="133" y="603" font-size="9.5" fill="#000" stroke="#000" stroke-width="0.25">4 Nov 20:00</text>
<rect x="198" y="591" width="1" height="3" fill="#000"/>
<text x="197" y="603" font-size="9.5" fill="#000" stroke="#000" stroke-width="0.25">6 Nov 04:00</text>
<rect x="262" y="591" width="1" height="3" fill="#000"/>
<text x="261" y="603" font-size="9.5" fill="#000" stroke="#000" stroke-width="0.25">7 Nov 12:00</text>
<rect x="326" y="591" width="1" height="3" fill="#000"/>
<text x="325" y="603" font-size="9.5" fill="#000" stroke="#000" stroke-width="0.25">8 Nov 20:00</text>
<rect x="390" y="591" width="1" height="3" fill="#000"/>
<text x="389" y="603" font-size="9.5" fill="#000" stroke="#000" stroke-width="0.25">12 Nov 00:00</text>
<rect x="454" y="591" width="1" height="3" fill="#000"/>
<text x="453" y="603" font-size="9.5" fill="#000" stroke="#000" stroke-width="0.25">13 Nov 08:00</text>
<rect x="518" y="591" width="1" height="3" fill="#000"/>
<text x="517" y="603" font-size="9.5" fill="#000" stroke="#000" stroke-width="0.25">14 Nov 16:00</text>
<rect x="582" y="591" width="1" height="3" fill="#000"/>
<text x="581" y="603" font-size="9.5" fill="#000" stroke="#000" stroke-width="0.25">17 Nov 23:00</text>
<rect x="646" y="591" width="1" height="3" fill="#000"/>
<text x="645" y="603" font-size="9.5" fill="#000" stroke="#000" stroke-width="0.25">19 Nov 04:00</text>
<rect x="710" y="591" width="1" height="3" fill="#000"/>
<text x="709" y="603" font-size="9.5" fill="#000" stroke="#000" stroke-width="0.25">20 Nov 12:00</text>
<rect x="774" y="591" width="1" height="3" fill="#000"/>
<text x="773" y="603" font-size="9.5" fill="#000" stroke="#000" stroke-width="0.25">21 Nov 20:00</text>
<rect x="838" y="591" width="1" height="3" fill="#000"/>
<text x="837" y="603" font-size="9.5" fill="#000" stroke="#000" stroke-width="0.25">25 Nov 00:00</text>
<path d="M9 48 L16 48 L12.5 44 Z" fill="#000" shape-rendering="auto"/>
<text x="20.5" y="48.7" font-size="9.3" fill="#000" xml:space="preserve" stroke="#000" stroke-width="0.25">SP500-,H4&#160;&#160;3131.750 3144.500 3131.250 3134.500</text>
<text x="10" y="449" font-size="9.3" fill="#000" stroke="#000" stroke-width="0.25">MACD(12,26,9) 5.8933 2.5810</text>
<text x="10" y="500" font-size="9.3" fill="#000" stroke="#000" stroke-width="0.25">RSI(14) 69.2364</text>
<defs>
<linearGradient id="gb" x1="0" y1="0" x2="0" y2="1"><stop offset="0" stop-color="#5454fa"/><stop offset="1" stop-color="#3a3aea"/></linearGradient>
<linearGradient id="gp" x1="0" y1="0" x2="0" y2="1"><stop offset="0" stop-color="#3232e2"/><stop offset="0.6" stop-color="#1818c8"/><stop offset="1" stop-color="#0000a6"/></linearGradient>
<linearGradient id="gpu" gradientUnits="userSpaceOnUse" x1="0" y1="82" x2="0" y2="121"><stop offset="0" stop-color="#3232e2"/><stop offset="0.6" stop-color="#1818c8"/><stop offset="1" stop-color="#0000a6"/></linearGradient>
<linearGradient id="gs" x1="0" y1="0" x2="0" y2="1"><stop offset="0" stop-color="#efefef"/><stop offset="0.5" stop-color="#e3e3e3"/><stop offset="0.5" stop-color="#dadada"/><stop offset="1" stop-color="#d3d3d3"/></linearGradient>
</defs>
<rect x="9" y="57" width="219" height="64" fill="#ffffff"/>
<rect x="9" y="57" width="52" height="25" fill="url(#gb)"/>
<rect x="176" y="57" width="52" height="25" fill="url(#gb)"/>
<rect x="9" y="82" width="109" height="39" fill="url(#gp)"/>
<rect x="120" y="82" width="108" height="39" fill="url(#gp)"/>
<rect x="9" y="57" width="52" height="1" fill="#1414c8"/>
<rect x="9" y="57" width="1" height="64" fill="#1414c8"/>
<rect x="176" y="57" width="52" height="1" fill="#1414c8"/>
<rect x="227" y="57" width="1" height="64" fill="#1414c8"/>
<rect x="9" y="120" width="109" height="1" fill="#1414c8"/>
<rect x="120" y="120" width="108" height="1" fill="#1414c8"/>
<rect x="117" y="82" width="1" height="39" fill="#1414c8"/>
<rect x="120" y="82" width="1" height="39" fill="#1414c8"/>
<rect x="60" y="57" width="1" height="25" fill="#1414c8"/>
<rect x="176" y="57" width="1" height="25" fill="#1414c8"/>
<rect x="61" y="81" width="57" height="1" fill="#1414c8"/>
<rect x="120" y="81" width="57" height="1" fill="#1414c8"/>
<rect x="13" y="80" width="44" height="1" fill="#8c8cff"/>
<rect x="180" y="80" width="44" height="1" fill="#8c8cff"/>
<rect x="62" y="57" width="112" height="22" fill="#b4b4b4"/>
<rect x="63" y="58" width="110" height="20" fill="#ffffff"/>
<rect x="64" y="59" width="20" height="18" fill="url(#gs)"/>
<rect x="153" y="59" width="20" height="18" fill="url(#gs)"/>
<rect x="84" y="58" width="1" height="20" fill="#c8c8c8"/>
<rect x="152" y="58" width="1" height="20" fill="#c8c8c8"/>
<path d="M70.5 66.5 L76.5 66.5 L73.5 69.5 Z" fill="#4a5ec8" shape-rendering="auto"/>
<path d="M159.5 69.5 L165.5 69.5 L162.5 66.5 Z" fill="#4a5ec8" shape-rendering="auto"/>
<text x="148.6" y="72" font-size="12" fill="#000" text-anchor="end">1.00</text>
<text x="34.3" y="73" font-size="12" fill="#fff" text-anchor="middle" textLength="25.5" lengthAdjust="spacingAndGlyphs">SELL</text>
<text x="201.3" y="73" font-size="12" fill="#fff" text-anchor="middle" textLength="23.6" lengthAdjust="spacingAndGlyphs">BUY</text>
<text x="54.6" y="112.4" font-size="35.6" fill="#fff" textLength="39.4" lengthAdjust="spacingAndGlyphs" stroke="url(#gpu)" stroke-width="0.6">48</text>
<text x="167.8" y="112.4" font-size="35.6" fill="#fff" textLength="36.4" lengthAdjust="spacingAndGlyphs" stroke="url(#gpu)" stroke-width="0.6">26</text>
<text x="25.2" y="112" font-size="12.3" fill="#fff" font-weight="bold" textLength="28.3" lengthAdjust="spacingAndGlyphs">3134</text>
<text x="135.2" y="112" font-size="12.3" fill="#fff" font-weight="bold" textLength="27.8" lengthAdjust="spacingAndGlyphs">3135</text>
<text x="96.5" y="96" font-size="12" fill="#fff" font-weight="bold">5</text>
<text x="207.5" y="96" font-size="12" fill="#fff" font-weight="bold">5</text>
<text x="791.2" y="278.3" font-size="33" fill="#ff1a00" font-family="&quot;Liberation Sans&quot;, &quot;Noto Sans CJK SC&quot;, sans-serif" textLength="161" lengthAdjust="spacing" shape-rendering="auto">多空转折点</text>
<text x="951.3" y="276" font-size="34.2" fill="#ff1a00">3100</text>
</svg>
</body></html>
